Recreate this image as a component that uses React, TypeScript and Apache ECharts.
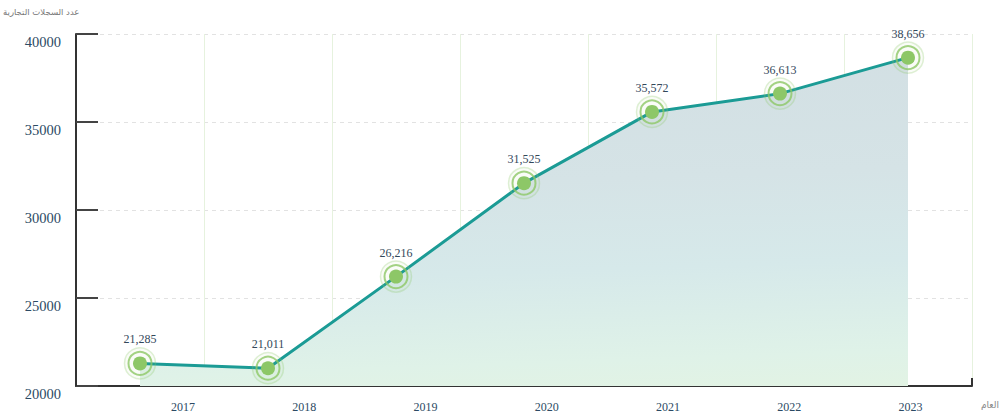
import React, { useEffect, useRef } from "react";
import * as echarts from "echarts";

const years = ["2017", "2018", "2019", "2020", "2021", "2022", "2023"];
const records = [21285, 21011, 26216, 31525, 35572, 36613, 38656];
const yAxisName = "عدد السجلات التجارية";
const xAxisName = "العام";

export default function App() {
  const ref = useRef<HTMLDivElement>(null);
  useEffect(() => {
    document.body.style.margin = "0";
    const chart = echarts.init(ref.current!, null, { renderer: "svg" });
    const labelColor = "#2c4a64";
    const serif = "Liberation Serif";
    chart.setOption({
      animation: false,
      textStyle: { fontFamily: serif },
      graphic: [
        {
          type: "text",
          x: 3,
          y: 12,
          style: {
            text: yAxisName,
            align: "left",
            verticalAlign: "middle",
            fontSize: 8.5,
            fontFamily: "DejaVu Sans",
            fill: "#777",
          },
        },
      ],
      grid: [
        { left: 76, right: 28, top: 34, bottom: 30, containLabel: false, outerBoundsMode: "none" },
        { left: 122.4, right: 28.8, top: 34, bottom: 30, containLabel: false, outerBoundsMode: "none" },
      ],
      xAxis: [
        {
          type: "category",
          gridIndex: 0,
          data: years,
          boundaryGap: true,
          name: xAxisName,
          nameLocation: "end",
          nameGap: 9,
          nameTextStyle: {
            fontSize: 9,
            color: "#888",
            fontFamily: "DejaVu Sans",
            verticalAlign: "top",
            padding: [14, 0, 0, 0],
          },
          axisLine: { show: true, lineStyle: { color: "#333", width: 2 } },
          axisTick: { show: true, inside: true, length: 8, lineStyle: { color: "#333", width: 2 } },
          axisLabel: { show: false },
          splitLine: { show: true, lineStyle: { color: "#e6f2de", width: 1 } },
        },
        {
          type: "category",
          gridIndex: 1,
          data: years,
          boundaryGap: true,
          axisLine: { show: false },
          axisTick: { show: false },
          splitLine: { show: false },
          axisLabel: { show: true, margin: 15, fontSize: 12, color: labelColor, fontFamily: serif },
        },
      ],
      yAxis: [
        {
          type: "value",
          gridIndex: 0,
          min: 20000,
          max: 40000,
          interval: 5000,
          axisLine: { show: true, lineStyle: { color: "#333", width: 2 } },
          axisTick: { show: true, inside: true, length: 22, lineStyle: { color: "#444", width: 2 } },
          axisLabel: {
            margin: 15,
            fontSize: 14.5,
            color: labelColor,
            fontFamily: serif,
            verticalAlign: "top",
            formatter: (v: number) => String(v),
          },
          splitLine: { show: true, lineStyle: { color: "#e2e2e2", width: 1, type: [4, 4] } },
        },
        {
          type: "value",
          gridIndex: 1,
          min: 20000,
          max: 40000,
          show: false,
        },
      ],
      series: [
        {
          type: "line",
          xAxisIndex: 0,
          yAxisIndex: 0,
          data: records,
          symbol: "circle",
          symbolSize: 14,
          itemStyle: { color: "#8dc867" },
          lineStyle: { color: "#1b9b95", width: 3 },
          areaStyle: {
            color: new echarts.graphic.LinearGradient(0, 0, 0.112, 1.38, [
              { offset: 0, color: "#d2dfe3" },
              { offset: 0.3, color: "#d5e3e6" },
              { offset: 0.5, color: "#d6e9ea" },
              { offset: 0.7, color: "#dff2e8" },
              { offset: 1, color: "#ebf6d8" },
            ]),
            opacity: 1,
          },
          label: {
            show: true,
            position: "top",
            distance: 11,
            fontSize: 12,
            color: "#33475a",
            fontFamily: serif,
            formatter: (p: any) => Number(p.value).toLocaleString("en-US"),
          },
          z: 2,
        },
        {
          type: "scatter",
          xAxisIndex: 0,
          yAxisIndex: 0,
          data: records,
          symbol: "circle",
          symbolSize: 23,
          itemStyle: { color: "rgba(0,0,0,0)", borderColor: "#8dc867", borderWidth: 2 },
          emphasis: { disabled: true },
          silent: true,
          z: 3,
        },
        {
          type: "scatter",
          xAxisIndex: 0,
          yAxisIndex: 0,
          data: records,
          symbol: "circle",
          symbolSize: 31,
          itemStyle: {
            color: "rgba(141,200,103,0.06)",
            borderColor: "rgba(141,200,103,0.35)",
            borderWidth: 1.5,
          },
          emphasis: { disabled: true },
          silent: true,
          z: 3,
        },
      ],
    });
    return () => chart.dispose();
  }, []);
  return <div ref={ref} style={{ width: 1000, height: 416 }} />;
}
